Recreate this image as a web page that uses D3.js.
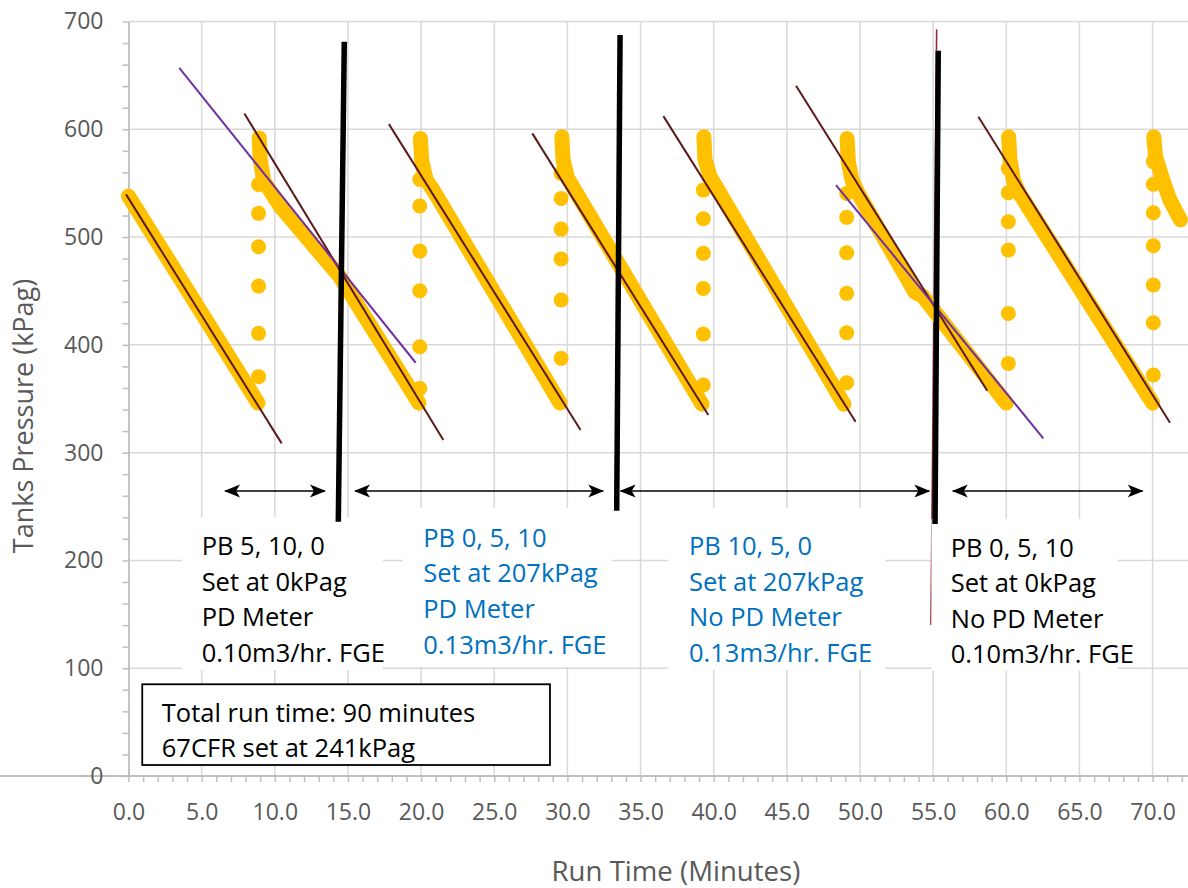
<!DOCTYPE html>
<html>
<head>
<meta charset="utf-8">
<script src="https://cdn.jsdelivr.net/npm/d3@7"></script>
<style>
  body { margin: 0; background: #fff; }
  svg { display: block; }
  text { font-family: "Open Sans", sans-serif; }
</style>
</head>
<body>
<svg id="chart" width="1188" height="888"></svg>
<script>
// ---- Tank pressure readings (minutes, kPag) ----
// Pressure decay between refills, one array per cycle
const decay1 = [[0, 538], [8.85, 346]];
const decay2 = [[8.93, 592], [9.0, 572], [9.25, 552], [10.4, 528], [14.46, 463], [19.85, 346]];
const decay3 = [[19.95, 591.5], [20.05, 570], [20.35, 553], [20.85, 543], [29.5, 346]];
const decay4 = [[29.62, 593], [29.7, 572], [30.0, 555], [30.63, 540.5], [39.2, 345]];
const decay5 = [[39.33, 593], [39.4, 572], [39.75, 556], [40.3, 543.6], [48.9, 345]];
const decay6 = [[49.12, 591.5], [49.2, 570], [49.45, 553], [49.9, 540], [53.75, 449], [54.3, 445], [60.0, 346]];
const decay7 = [[60.16, 593], [60.25, 572], [60.5, 552], [60.9, 540.5], [70.0, 346]];
const decay8 = [[70.08, 593], [70.2, 575], [70.7, 553], [71.2, 534], [71.9, 516]];
const decayCycles = [decay1, decay2, decay3, decay4, decay5, decay6, decay7, decay8];

// Readings logged while the tanks were refilling
const refillTimes = [8.89, 19.91, 29.57, 39.29, 49.09, 60.14, 70.05];
const refillPressures = [
  [370.5, 410.7, 454.5, 491, 522, 548.8],
  [359.6, 398.3, 450.2, 487, 528.8, 553.5],
  [387.5, 441.6, 479.6, 507.4, 535.9, 559.1],
  [362.7, 410, 452.4, 484.9, 517, 543.6],
  [364.9, 411.2, 447.8, 485.4, 518.3, 540.5],
  [382.8, 429.2, 487.9, 514.2, 541.1, 563.7],
  [372, 420.5, 455.5, 492, 522.5, 549, 570]
];

// Linear fits: [x0, y0, x1, y1]
const fitsDarkRed = [
  [-0.17, 539.6, 10.47, 308.6],
  [7.92, 614.7, 21.52, 311.7],
  [17.8, 604.8, 30.9, 321],
  [27.6, 596.2, 39.63, 334.9],
  [36.56, 612.2, 49.7, 328.7],
  [45.63, 640.4, 58.7, 357.4],
  [58.09, 611.6, 71.19, 327.8]
];
const fitsPurple = [
  [3.47, 657, 19.63, 383.4],
  [48.36, 548.2, 62.53, 313.3]
];

// Setting-change markers: [x top, y top, x bottom, y bottom]
const changeMarkers = [
  [14.75, 681.2, 14.34, 235.9],
  [33.6, 687.4, 33.37, 246.1],
  [55.35, 672.8, 55.13, 233.8]
];
const thinMarker = [55.24, 692.7, 54.85, 140];

// Test periods shown by double arrows: [start, end] minutes
const periodArrows = [[6.6, 13.43], [15.48, 32.45], [33.64, 54.74], [56.34, 69.32]];
const arrowLevel = 264.4;

// Period notes
const noteLines = [
  ["PB 5, 10, 0", "Set at 0kPag", "PD Meter", "0.10m3/hr. FGE"],
  ["PB 0, 5, 10", "Set at 207kPag", "PD Meter", "0.13m3/hr. FGE"],
  ["PB 10, 5, 0", "Set at 207kPag", "No PD Meter", "0.13m3/hr. FGE"],
  ["PB 0, 5, 10", "Set at 0kPag", "No PD Meter", "0.10m3/hr. FGE"]
];
const noteAnchors = [[5.0, 205], [20.15, 212.7], [38.31, 205], [56.2, 203.5]];
const noteColors = ["#000000", "#0070C0", "#0070C0", "#000000"];
const noteAreas = [
  [3.66, 240.3, 17.4, 98.3],
  [18.76, 248.6, 33.05, 101.1],
  [36.88, 248.6, 51.71, 98.3],
  [54.88, 238.4, 67.6, 97.7]
];
const summaryLines = ["Total run time: 90 minutes", "67CFR set at 241kPag"];
const summaryArea = [0.94, 85.1, 28.81, 10.2];

// Axis ticks
const xMajor = d3.range(0, 71, 5);
const xMinor = d3.range(0, 73, 1);
const yMajor = d3.range(0, 701, 100);
const yMinor = d3.range(0, 701, 20);

// ---- Drawing ----
const svg = d3.select("#chart");
const x = d3.scaleLinear().domain([0, 72.42]).range([128.5, 1188]);
const y = d3.scaleLinear().domain([0, 700]).range([776, 21.5]);

// Gridlines
const grid = svg.append("g").attr("stroke", "#D9D9D9").attr("stroke-width", 1.5);
grid.selectAll("line.h").data(yMajor.filter(d => d > 0)).join("line")
  .attr("x1", x(0)).attr("x2", 1188).attr("y1", d => y(d)).attr("y2", d => y(d));
grid.selectAll("line.v").data(xMajor.filter(d => d > 0)).join("line")
  .attr("x1", d => x(d)).attr("x2", d => x(d)).attr("y1", y(0)).attr("y2", y(700));

// Thin marker sits under the last note area
svg.append("line")
  .attr("x1", x(thinMarker[0])).attr("y1", y(thinMarker[1]))
  .attr("x2", x(thinMarker[2])).attr("y2", y(thinMarker[3]))
  .attr("stroke", "#8E2A3A").attr("stroke-width", 1.6);

// White backing of notes
svg.append("g").selectAll("rect").data(noteAreas).join("rect")
  .attr("x", d => x(d[0])).attr("y", d => y(d[1]))
  .attr("width", d => x(d[2]) - x(d[0])).attr("height", d => y(d[3]) - y(d[1]))
  .attr("fill", "#fff");

// Axes
const axisColor = "#BFBFBF";
const gx = svg.append("g").attr("transform", `translate(0,${y(0)})`)
  .call(d3.axisBottom(x).tickValues(xMinor).tickSize(6).tickSizeOuter(0).tickPadding(21.5)
    .tickFormat(d => d % 5 === 0 && d <= 70 ? d3.format(".1f")(d) : ""));
const gy = svg.append("g").attr("transform", `translate(${x(0)},0)`)
  .call(d3.axisLeft(y).tickValues(yMinor).tickSize(6).tickSizeOuter(0).tickPadding(19)
    .tickFormat(d => d % 100 === 0 ? d : ""));
[gx, gy].forEach(g => {
  g.select(".domain").attr("stroke", axisColor).attr("stroke-width", 1.8);
  g.selectAll(".tick line").attr("stroke", axisColor).attr("stroke-width", 1.5);
  g.selectAll(".tick text").attr("fill", "#595959").style("font-size", "23px")
    .style("font-family", "'Open Sans', sans-serif");
});
gx.select(".domain").attr("d", `M0,0H${1188}`);

// Axis titles
svg.append("text").attr("x", 676).attr("y", 881).attr("text-anchor", "middle")
  .attr("fill", "#595959").style("font-size", "27.6px").text("Run Time (Minutes)");
svg.append("text").attr("transform", "translate(33,416) rotate(-90)").attr("text-anchor", "middle")
  .attr("fill", "#595959").style("font-size", "27px").text("Tanks Pressure (kPag)");

// Pressure series
const gold = "#FFC000";
const line = d3.line().x(d => x(d[0])).y(d => y(d[1]));
svg.append("g").selectAll("path").data(decayCycles).join("path")
  .attr("d", line).attr("fill", "none").attr("stroke", gold)
  .attr("stroke-width", 15).attr("stroke-linecap", "round").attr("stroke-linejoin", "round");
const refillPts = refillTimes.flatMap((t, i) => refillPressures[i].map(p => [t, p]));
svg.append("g").selectAll("circle").data(refillPts).join("circle")
  .attr("cx", d => x(d[0])).attr("cy", d => y(d[1])).attr("r", 7.5).attr("fill", gold);

// Fitted lines
const drawFits = (rows, color) => svg.append("g").selectAll("line").data(rows).join("line")
  .attr("x1", d => x(d[0])).attr("y1", d => y(d[1]))
  .attr("x2", d => x(d[2])).attr("y2", d => y(d[3]))
  .attr("stroke", color).attr("stroke-width", 2);
drawFits(fitsDarkRed, "#5C1A1B");
drawFits(fitsPurple, "#7030A0");

// Setting-change markers
svg.append("g").selectAll("line").data(changeMarkers).join("line")
  .attr("x1", d => x(d[0])).attr("y1", d => y(d[1]))
  .attr("x2", d => x(d[2])).attr("y2", d => y(d[3]))
  .attr("stroke", "#000").attr("stroke-width", 5.5);

// Period arrows
const defs = svg.append("defs");
defs.append("marker").attr("id", "stealth")
  .attr("viewBox", "0 -7 16 14").attr("refX", 15).attr("refY", 0)
  .attr("markerWidth", 16).attr("markerHeight", 14).attr("markerUnits", "userSpaceOnUse")
  .attr("orient", "auto-start-reverse")
  .append("path").attr("d", "M0,-6.5L16,0L0,6.5L4,0Z").attr("fill", "#000");
svg.append("g").selectAll("line").data(periodArrows).join("line")
  .attr("x1", d => x(d[0])).attr("x2", d => x(d[1]))
  .attr("y1", y(arrowLevel)).attr("y2", y(arrowLevel))
  .attr("stroke", "#000").attr("stroke-width", 1.6)
  .attr("marker-start", "url(#stealth)").attr("marker-end", "url(#stealth)");

// Notes
const lineGap = 35.6;
noteLines.forEach((lines, i) => {
  const t = svg.append("text").attr("fill", noteColors[i]).style("font-size", "25.5px");
  lines.forEach((s, k) => t.append("tspan")
    .attr("x", x(noteAnchors[i][0])).attr("y", y(noteAnchors[i][1]) + k * lineGap).text(s));
});

// Summary box
svg.append("rect")
  .attr("x", x(summaryArea[0])).attr("y", y(summaryArea[1]))
  .attr("width", x(summaryArea[2]) - x(summaryArea[0])).attr("height", y(summaryArea[3]) - y(summaryArea[1]))
  .attr("fill", "#fff").attr("stroke", "#000").attr("stroke-width", 1.8);
const st = svg.append("text").attr("fill", "#000").style("font-size", "25.5px");
summaryLines.forEach((s, k) => st.append("tspan")
  .attr("x", x(summaryArea[0]) + 19.5).attr("y", y(summaryArea[1]) + 37.5 + k * lineGap).text(s));
</script>
</body>
</html>
